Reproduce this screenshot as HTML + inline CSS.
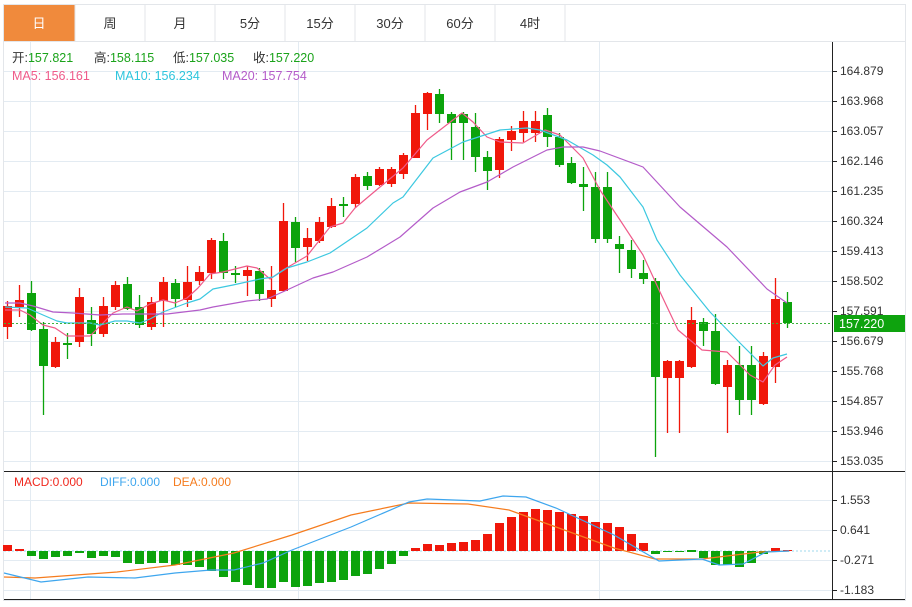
<!DOCTYPE html>
<html><head><meta charset="utf-8">
<style>
html,body{margin:0;padding:0;background:#fff;}
body{width:912px;height:602px;overflow:hidden;font-family:"Liberation Sans","Noto Sans CJK SC",sans-serif;}
</style></head>
<body>
<svg id="s" width="912" height="602" xmlns="http://www.w3.org/2000/svg" font-family="Liberation Sans, Noto Sans CJK SC, sans-serif">
<rect x="3.5" y="4.5" width="902" height="596" fill="#fff" stroke="#e3e6ea"/>
<rect x="4" y="5" width="71" height="36" fill="#f08a3c"/>
<g stroke="#e3e6ea">
<line x1="75" y1="5" x2="75" y2="41"/><line x1="145" y1="5" x2="145" y2="41"/><line x1="215" y1="5" x2="215" y2="41"/><line x1="285" y1="5" x2="285" y2="41"/><line x1="355" y1="5" x2="355" y2="41"/><line x1="425" y1="5" x2="425" y2="41"/><line x1="495" y1="5" x2="495" y2="41"/><line x1="565" y1="5" x2="565" y2="41"/>
<line x1="4" y1="41.5" x2="905" y2="41.5"/>
</g>
<g font-size="13" text-anchor="middle" fill="#333">
<text x="39" y="28" fill="#fff">日</text><text x="110" y="28">周</text><text x="180" y="28">月</text><text x="250" y="28">5分</text><text x="320" y="28">15分</text><text x="390" y="28">30分</text><text x="460" y="28">60分</text><text x="530" y="28">4时</text>
</g>
<g id="grid" stroke="#e3ebf2" stroke-width="1"></g>
<g font-size="12.5" fill="#333">
<text x="12" y="62">开:<tspan fill="#1aa31a">157.821</tspan></text>
<text x="94" y="62">高:<tspan fill="#1aa31a">158.115</tspan></text>
<text x="173" y="62">低:<tspan fill="#1aa31a">157.035</tspan></text>
<text x="253" y="62">收:<tspan fill="#1aa31a">157.220</tspan></text>
<text x="12" y="80" fill="#ef5b8a">MA5: 156.161</text>
<text x="115" y="80" fill="#2ec5dd">MA10: 156.234</text>
<text x="222" y="80" fill="#b45cc9">MA20: 157.754</text>
</g>
<g id="c"></g>
<g id="m"></g>
<line x1="832.5" y1="42" x2="832.5" y2="600" stroke="#222"/>
<line x1="4" y1="471.5" x2="905" y2="471.5" stroke="#222"/>
<line x1="4" y1="599.5" x2="905" y2="599.5" stroke="#222"/>
<g id="ax" font-size="12" fill="#333"></g>
<line x1="4" y1="323.5" x2="832" y2="323.5" stroke="#3cb33c" stroke-dasharray="2,2"/>
<rect x="834" y="315" width="71" height="17" fill="#0ea30e"/>
<text x="839" y="328" font-size="12.5" fill="#fff">157.220</text>
<g font-size="12">
<text x="14" y="486" fill="#f0281e">MACD:0.000</text>
<text x="100" y="486" fill="#3ea6ee">DIFF:0.000</text>
<text x="173" y="486" fill="#f57c1e">DEA:0.000</text>
</g>
</svg>
<script>
var NS="http://www.w3.org/2000/svg";
function el(p,t,a){var e=document.createElementNS(NS,t);for(var k in a)e.setAttribute(k,a[k]);p.appendChild(e);return e;}
var g=document.getElementById("grid"),c=document.getElementById("c"),m=document.getElementById("m"),ax=document.getElementById("ax");
var labs=["164.879","163.968","163.057","162.146","161.235","160.324","159.413","158.502","157.591","156.679","155.768","154.857","153.946","153.035"];
for(var i=0;i<14;i++){var y=71+30*i;el(g,"line",{x1:4,x2:832,y1:y+.5,y2:y+.5});el(ax,"line",{x1:832,x2:837,y1:y+.5,y2:y+.5,stroke:"#222"});var t=el(ax,"text",{x:840,y:y+4});t.textContent=labs[i];}
[30,298,599].forEach(function(x){el(g,"line",{x1:x+.5,x2:x+.5,y1:42,y2:600});});
var ml=[["1.553",500],["0.641",530],["-0.271",560],["-1.183",590]];
ml.forEach(function(a){el(g,"line",{x1:4,x2:832,y1:a[1]+.5,y2:a[1]+.5});el(ax,"line",{x1:832,x2:837,y1:a[1]+.5,y2:a[1]+.5,stroke:"#222"});var t=el(ax,"text",{x:840,y:a[1]+4});t.textContent=a[0];});
el(m,"line",{x1:4,x2:832,y1:551,y2:551,stroke:"#9fd8ee","stroke-dasharray":"2,2"});
var R=1,G=0;
var d=[[306,327,301,339,R],[300,307,285,317,R],[293,330,281,331,G],[329,366,322,415,G],[342,367,337,368,R],[343,344,333,359,G],[297,342,288,347,R],[320,334,307,346,G],[306,334,297,337,R],[285,307,281,310,R],
[284,309,277,310,G],[307,325,295,328,G],[302,327,297,330,R],[282,301,277,327,R],[283,299,279,307,G],[282,300,266,307,R],[272,281,266,285,R],[240,273,238,279,R],[241,273,233,279,G],[273,275,266,283,G],
[270,276,266,296,R],[271,294,268,301,G],[290,299,266,307,R],[221,291,203,292,R],[222,248,217,262,G],[238,247,228,261,R],[222,241,217,243,R],[206,227,198,228,R],[204,206,197,217,G],[177,204,174,208,R],
[176,186,172,190,G],[169,185,167,186,R],[169,184,167,187,R],[155,174,153,179,R],[113,158,105,158,R],[93,114,92,130,R],[94,114,89,123,G],[114,123,112,160,G],[114,123,112,160,G],[127,157,113,172,G],
[157,171,151,190,G],[139,170,137,178,R],[131,140,126,151,R],[121,133,111,142,R],[121,133,111,142,R],[115,137,108,147,G],[137,165,133,167,G],[163,183,157,184,G],[184,187,167,211,G],[187,239,172,243,G],
[187,239,172,243,G],[244,249,236,273,G],[250,269,240,278,G],[273,279,260,284,G],[281,377,278,457,G],[361,378,360,433,R],[361,378,360,433,R],[320,367,307,368,R],[322,331,318,346,G],[331,384,314,385,G],
[365,387,360,433,R],[365,400,346,415,G],[365,400,346,415,G],[356,404,352,405,R],[299,367,278,383,R],[302,323,292,328,G]];
d.forEach(function(a,k){var x=7.5+12*k,col=a[4]?"#f0170a":"#0ca30c";
el(c,"line",{x1:x,x2:x,y1:a[2],y2:a[3],stroke:col,"stroke-width":1.3});
el(c,"rect",{x:x-4.5,y:a[0],width:9,height:Math.max(2,a[1]-a[0]),fill:col});});
function pl(pts,col,w){el(c,"polyline",{points:pts,fill:"none",stroke:col,"stroke-width":w||1.2,"stroke-linejoin":"round"});}
pl("5,310 20,310 30,315 43,325 55,328 67,336 90,336 113,313 127,307 137,311 150,304 163,300 175,303 187,298 198,288 210,274 223,272 247,266 257,268 270,279 283,270 307,256 330,227 343,223 355,208 380,187 403,168 427,140 440,130 462,113 473,122 487,137 500,142 523,143 545,130 560,135 583,158 600,190 620,220 643,255 660,292 678,330 702,350 727,352 750,375 763,382 775,365 787,357","#ef5b8a");
pl("5,307 27,308 43,315 57,321 67,323 90,323 100,325 115,321 127,321 140,323 150,319 163,312 187,303 200,299 213,289 233,285 260,279 273,277 287,268 307,262 330,253 367,228 393,203 403,197 433,158 463,142 500,130 527,128 540,130 567,140 593,155 607,165 620,177 643,207 657,240 680,275 710,312 740,343 763,366 773,358 787,354","#3cc8e0");
pl("5,303 20,303 33,306 53,312 73,313 100,315 123,314 167,314 200,310 213,307 247,301 267,299 287,290 313,278 333,272 367,257 400,237 433,208 460,192 487,182 513,167 547,150 563,147 583,147 600,151 643,167 680,207 727,247 767,289 787,303","#b45cc9");
var h=[545,549,556,559,557,556,553,558,556,557,563,564,563,563,565,565,567,571,577,582,585,588,588,582,587,586,583,582,580,576,574,569,564,556,548,544,545,543,542,540,534,523,517,512,509,510,512,514,516,522,523,527,534,543,554,552,552,551,558,565,565,567,563,554,548,550];
h.forEach(function(y,k){var x=7.5+12*k,red=y<551;var t=Math.min(y,551),b=Math.max(y,551);if(b-t<1){t=550;b=552;}
el(m,"rect",{x:x-4.5,y:t,width:9,height:b-t,fill:red?"#f0170a":"#0ca30c"});});
function ml2(pts,col){el(m,"polyline",{points:pts,fill:"none",stroke:col,"stroke-width":1.2});}
ml2("4,577 35,578 117,572 175,565 234,553 292,535 351,515 409,503 468,504 509,510 556,527 614,548 655,559 702,559 760,552 789,551","#f57c1e");
ml2("4,573 41,582 88,577 135,578 175,573 211,570 234,570 263,563 292,550 351,527 409,502 427,499 480,501 503,496 526,497 556,508 614,535 659,561 702,559 719,565 743,564 766,552 789,551","#3ea6ee");
</script>
</body></html>
